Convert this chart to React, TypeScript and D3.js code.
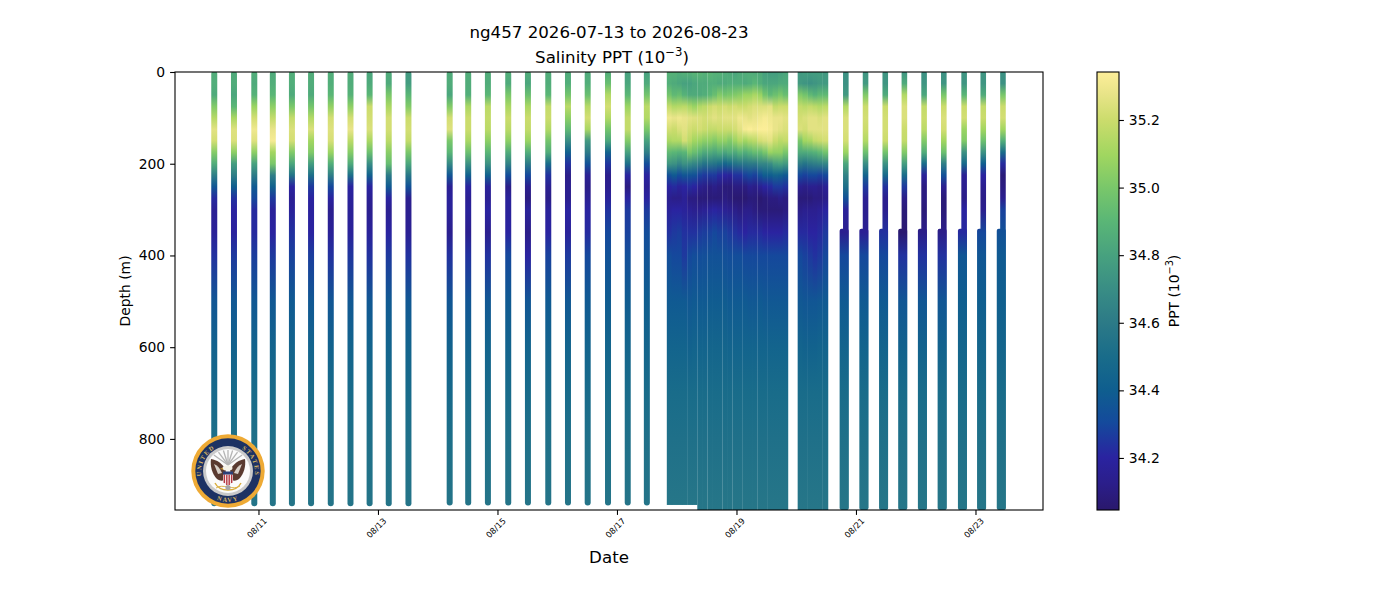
import React, { useEffect, useRef } from 'react';
import * as d3 from 'd3';

// Depth bins (m) shared by every profile row below
const depthLevels = [0, 25, 50, 75, 100, 125, 150, 175, 200, 225, 250, 275, 300, 350, 400, 500, 600, 700, 800, 950];

// Profile times, as day of August
const earlyDays = [10.26, 10.59, 10.93, 11.24, 11.56, 11.88, 12.21, 12.54, 12.86, 13.18, 13.51];
const midDays = [14.2, 14.51, 14.84, 15.18, 15.51, 15.85, 16.18, 16.51, 16.85, 17.18, 17.5];
const denseDays = [17.88, 17.96, 18.05, 18.13, 18.22, 18.3, 18.39, 18.47, 18.56, 18.64, 18.72, 18.81, 18.89, 18.98, 19.06, 19.15, 19.23, 19.31, 19.4, 19.48, 19.57, 19.65, 19.74, 19.82];
const dense2Days = [20.07, 20.15, 20.24, 20.32, 20.4, 20.49];
const lateDays = [20.83, 21.16, 21.49, 21.81, 22.14, 22.47, 22.81, 23.13, 23.46];

// Salinity per profile, one value per depth level
const earlySalinity = [
  [34.85, 34.86, 34.84, 35.02, 35.15, 35.26, 35.22, 35.03, 34.85, 34.62, 34.36, 34.22, 34.16, 34.17, 34.24, 34.36, 34.43, 34.48, 34.52, 34.56],
  [34.84, 34.85, 34.82, 34.9, 35.12, 35.25, 35.24, 35.05, 34.78, 34.62, 34.4, 34.24, 34.2, 34.19, 34.26, 34.37, 34.43, 34.49, 34.53, 34.56],
  [34.86, 34.84, 34.88, 35.08, 35.22, 35.3, 35.25, 35.05, 34.8, 34.6, 34.38, 34.3, 34.22, 34.22, 34.27, 34.37, 34.44, 34.49, 34.53, 34.56],
  [34.84, 34.86, 34.9, 35.05, 35.18, 35.28, 35.32, 35.1, 35.0, 34.62, 34.42, 34.26, 34.18, 34.2, 34.26, 34.37, 34.44, 34.49, 34.53, 34.56],
  [34.86, 34.86, 34.84, 35.0, 35.18, 35.24, 35.22, 35.02, 34.82, 34.55, 34.2, 34.16, 34.18, 34.24, 34.28, 34.38, 34.44, 34.49, 34.53, 34.56],
  [34.85, 34.85, 34.84, 34.98, 35.14, 35.24, 35.1, 35.02, 34.78, 34.52, 34.26, 34.2, 34.19, 34.2, 34.27, 34.37, 34.44, 34.49, 34.53, 34.56],
  [34.86, 34.86, 34.9, 35.06, 35.22, 35.25, 35.23, 35.08, 34.86, 34.62, 34.3, 34.2, 34.14, 34.17, 34.24, 34.36, 34.43, 34.49, 34.53, 34.56],
  [34.85, 34.85, 34.88, 35.05, 35.22, 35.28, 35.16, 35.03, 34.84, 34.52, 34.2, 34.18, 34.17, 34.18, 34.25, 34.37, 34.44, 34.49, 34.53, 34.56],
  [34.82, 34.84, 34.9, 35.2, 35.22, 35.24, 35.12, 34.96, 34.7, 34.42, 34.2, 34.16, 34.14, 34.18, 34.24, 34.37, 34.44, 34.49, 34.53, 34.56],
  [34.84, 34.84, 35.0, 35.12, 35.22, 35.22, 35.16, 35.04, 34.94, 34.6, 34.38, 34.2, 34.15, 34.2, 34.26, 34.38, 34.44, 34.49, 34.53, 34.56],
  [34.76, 34.78, 34.9, 35.02, 35.2, 35.22, 35.18, 35.0, 34.82, 34.58, 34.34, 34.14, 34.14, 34.16, 34.24, 34.37, 34.44, 34.49, 34.53, 34.56],
];

const midSalinity = [
  [34.84, 34.85, 34.82, 35.02, 35.22, 35.25, 35.0, 34.9, 34.68, 34.36, 34.16, 34.18, 34.18, 34.14, 34.24, 34.36, 34.43, 34.48, 34.52, 34.56],
  [34.85, 34.85, 34.86, 35.12, 35.2, 35.2, 35.12, 34.96, 34.72, 34.42, 34.2, 34.16, 34.18, 34.14, 34.24, 34.36, 34.43, 34.49, 34.53, 34.56],
  [34.85, 34.85, 34.9, 35.16, 35.18, 35.16, 35.05, 34.9, 34.72, 34.42, 34.18, 34.16, 34.2, 34.14, 34.24, 34.37, 34.44, 34.49, 34.53, 34.56],
  [34.86, 34.84, 35.0, 35.12, 35.2, 35.16, 35.05, 34.85, 34.64, 34.32, 34.12, 34.18, 34.18, 34.2, 34.3, 34.38, 34.44, 34.49, 34.53, 34.56],
  [34.85, 34.82, 34.95, 35.12, 35.2, 35.18, 35.08, 34.86, 34.6, 34.3, 34.14, 34.1, 34.18, 34.12, 34.2, 34.36, 34.44, 34.49, 34.53, 34.56],
  [34.85, 34.85, 34.9, 35.18, 35.2, 35.14, 34.98, 34.85, 34.5, 34.24, 34.15, 34.12, 34.18, 34.2, 34.28, 34.38, 34.44, 34.49, 34.53, 34.56],
  [34.84, 34.86, 34.98, 35.16, 35.05, 34.92, 34.7, 34.42, 34.24, 34.12, 34.14, 34.14, 34.2, 34.18, 34.26, 34.37, 34.44, 34.49, 34.53, 34.56],
  [34.84, 34.86, 34.95, 35.15, 35.22, 35.12, 34.76, 34.6, 34.34, 34.16, 34.12, 34.16, 34.2, 34.22, 34.3, 34.38, 34.44, 34.49, 34.53, 34.56],
  [34.85, 34.95, 35.14, 35.22, 35.14, 34.98, 34.82, 34.44, 34.25, 34.13, 34.14, 34.18, 34.24, 34.3, 34.34, 34.39, 34.45, 34.5, 34.53, 34.56],
  [34.8, 34.82, 34.9, 35.08, 35.18, 35.18, 35.02, 34.8, 34.52, 34.2, 34.1, 34.2, 34.26, 34.28, 34.33, 34.39, 34.45, 34.5, 34.53, 34.56],
  [34.8, 34.84, 34.98, 35.16, 35.14, 35.0, 34.8, 34.62, 34.32, 34.2, 34.16, 34.2, 34.26, 34.32, 34.35, 34.4, 34.45, 34.5, 34.53, 34.56],
];

const denseSalinity = [
  [34.88, 34.86, 34.98, 35.18, 35.3, 35.22, 35.12, 34.92, 34.74, 34.34, 34.2, 34.14, 34.18, 34.24, 34.32, 34.38, 34.44, 34.5, 34.53, 34.57],
  [34.88, 34.84, 34.92, 35.14, 35.28, 35.2, 35.14, 34.9, 34.72, 34.38, 34.22, 34.12, 34.2, 34.26, 34.3, 34.38, 34.44, 34.5, 34.53, 34.57],
  [34.86, 34.82, 34.94, 35.15, 35.3, 35.24, 35.14, 34.88, 34.66, 34.32, 34.18, 34.12, 34.2, 34.27, 34.3, 34.38, 34.44, 34.5, 34.53, 34.57],
  [34.88, 34.8, 34.88, 35.16, 35.28, 35.26, 35.22, 34.9, 34.72, 34.36, 34.2, 34.16, 34.18, 34.24, 34.26, 34.38, 34.44, 34.5, 34.53, 34.57],
  [34.88, 34.8, 34.84, 35.12, 35.26, 35.22, 35.16, 35.0, 34.7, 34.35, 34.22, 34.1, 34.16, 34.24, 34.3, 34.37, 34.43, 34.5, 34.53, 34.57],
  [34.9, 34.82, 34.84, 35.08, 35.25, 35.2, 35.1, 34.95, 34.66, 34.34, 34.2, 34.1, 34.14, 34.24, 34.32, 34.38, 34.44, 34.5, 34.53, 34.57],
  [34.9, 34.84, 34.84, 35.14, 35.24, 35.22, 35.08, 34.9, 34.62, 34.28, 34.14, 34.08, 34.14, 34.26, 34.32, 34.38, 34.44, 34.5, 34.53, 34.57],
  [34.88, 34.84, 34.86, 35.16, 35.22, 35.2, 35.05, 34.84, 34.56, 34.26, 34.12, 34.08, 34.16, 34.27, 34.33, 34.38, 34.44, 34.5, 34.53, 34.57],
  [34.9, 34.86, 34.9, 35.2, 35.24, 35.18, 35.05, 34.85, 34.58, 34.26, 34.1, 34.08, 34.18, 34.28, 34.34, 34.39, 34.45, 34.5, 34.53, 34.57],
  [34.88, 34.86, 34.95, 35.22, 35.26, 35.18, 35.02, 34.82, 34.56, 34.26, 34.12, 34.08, 34.2, 34.3, 34.34, 34.39, 34.45, 34.5, 34.53, 34.57],
  [34.88, 34.84, 35.02, 35.2, 35.24, 35.2, 35.06, 34.86, 34.52, 34.22, 34.1, 34.08, 34.18, 34.28, 34.34, 34.39, 34.45, 34.5, 34.53, 34.57],
  [34.86, 34.84, 34.98, 35.22, 35.26, 35.2, 35.06, 34.82, 34.46, 34.2, 34.08, 34.1, 34.16, 34.28, 34.33, 34.39, 34.45, 34.5, 34.53, 34.57],
  [34.84, 34.86, 35.0, 35.2, 35.26, 35.2, 35.02, 34.86, 34.5, 34.18, 34.08, 34.08, 34.14, 34.26, 34.32, 34.38, 34.44, 34.5, 34.53, 34.57],
  [34.82, 34.86, 35.02, 35.22, 35.26, 35.22, 35.08, 34.84, 34.55, 34.24, 34.1, 34.06, 34.12, 34.24, 34.32, 34.38, 34.44, 34.5, 34.53, 34.57],
  [34.84, 34.86, 35.04, 35.2, 35.3, 35.26, 35.14, 34.9, 34.58, 34.24, 34.1, 34.06, 34.1, 34.22, 34.32, 34.38, 34.44, 34.5, 34.53, 34.57],
  [34.86, 34.84, 35.08, 35.2, 35.28, 35.32, 35.1, 34.86, 34.58, 34.28, 34.1, 34.06, 34.12, 34.2, 34.3, 34.38, 34.44, 34.5, 34.53, 34.57],
  [34.86, 34.86, 35.08, 35.22, 35.26, 35.34, 35.14, 34.9, 34.6, 34.3, 34.14, 34.08, 34.12, 34.22, 34.3, 34.37, 34.44, 34.5, 34.53, 34.57],
  [34.84, 34.9, 35.12, 35.24, 35.28, 35.32, 35.16, 34.94, 34.6, 34.28, 34.12, 34.08, 34.1, 34.22, 34.3, 34.37, 34.44, 34.5, 34.53, 34.57],
  [34.84, 34.86, 35.08, 35.24, 35.3, 35.34, 35.22, 34.94, 34.66, 34.34, 34.16, 34.06, 34.08, 34.22, 34.3, 34.38, 34.44, 34.5, 34.53, 34.57],
  [34.8, 34.82, 34.98, 35.24, 35.32, 35.34, 35.24, 35.0, 34.66, 34.4, 34.2, 34.08, 34.08, 34.2, 34.3, 34.37, 34.44, 34.5, 34.53, 34.57],
  [34.78, 34.82, 34.92, 35.26, 35.3, 35.32, 35.26, 35.08, 34.7, 34.4, 34.22, 34.1, 34.08, 34.2, 34.3, 34.37, 34.44, 34.5, 34.53, 34.57],
  [34.78, 34.82, 34.96, 35.18, 35.28, 35.28, 35.2, 35.06, 34.78, 34.44, 34.26, 34.1, 34.08, 34.2, 34.3, 34.37, 34.44, 34.5, 34.53, 34.57],
  [34.8, 34.84, 35.0, 35.2, 35.28, 35.26, 35.16, 35.06, 34.8, 34.42, 34.26, 34.12, 34.08, 34.2, 34.3, 34.37, 34.44, 34.5, 34.53, 34.57],
  [34.82, 34.84, 34.95, 35.2, 35.26, 35.24, 35.18, 35.0, 34.76, 34.38, 34.24, 34.1, 34.1, 34.22, 34.3, 34.37, 34.44, 34.5, 34.53, 34.57],
];

const dense2Salinity = [
  [34.76, 34.76, 35.02, 35.18, 35.22, 35.24, 35.0, 34.84, 34.6, 34.3, 34.14, 34.08, 34.12, 34.22, 34.3, 34.37, 34.44, 34.5, 34.53, 34.57],
  [34.78, 34.74, 34.98, 35.16, 35.24, 35.22, 35.1, 34.84, 34.56, 34.28, 34.12, 34.08, 34.14, 34.22, 34.28, 34.36, 34.43, 34.5, 34.53, 34.57],
  [34.78, 34.72, 34.92, 35.18, 35.26, 35.26, 35.12, 34.86, 34.6, 34.3, 34.14, 34.08, 34.14, 34.2, 34.26, 34.36, 34.43, 34.5, 34.53, 34.57],
  [34.78, 34.74, 34.88, 35.16, 35.26, 35.26, 35.18, 34.88, 34.62, 34.3, 34.14, 34.1, 34.14, 34.2, 34.24, 34.36, 34.43, 34.5, 34.53, 34.57],
  [34.78, 34.76, 34.92, 35.14, 35.24, 35.26, 35.2, 34.92, 34.64, 34.28, 34.12, 34.1, 34.16, 34.22, 34.26, 34.37, 34.44, 34.5, 34.53, 34.57],
  [34.76, 34.76, 34.92, 35.16, 35.26, 35.26, 35.22, 34.98, 34.66, 34.3, 34.16, 34.12, 34.2, 34.26, 34.3, 34.38, 34.44, 34.5, 34.53, 34.57],
];

const lateSalinity = [
  [34.72, 34.72, 34.76, 35.14, 35.24, 35.24, 35.22, 35.08, 34.82, 34.64, 34.52, 34.34, 34.18, 34.14, 34.3, 34.38, 34.44, 34.5, 34.53, 34.57],
  [34.74, 34.76, 35.02, 35.2, 35.22, 35.2, 35.14, 34.96, 34.7, 34.44, 34.26, 34.16, 34.14, 34.16, 34.3, 34.38, 34.44, 34.5, 34.53, 34.57],
  [34.74, 34.74, 34.84, 35.2, 35.22, 35.22, 35.2, 34.98, 34.72, 34.48, 34.24, 34.14, 34.14, 34.24, 34.3, 34.38, 34.44, 34.5, 34.53, 34.57],
  [34.74, 34.84, 35.14, 35.24, 35.24, 35.2, 35.18, 35.02, 34.78, 34.5, 34.26, 34.12, 34.08, 34.06, 34.24, 34.36, 34.43, 34.5, 34.53, 34.57],
  [34.72, 34.74, 34.82, 35.18, 35.2, 35.16, 35.02, 34.85, 34.5, 34.18, 34.1, 34.1, 34.08, 34.12, 34.24, 34.36, 34.43, 34.5, 34.53, 34.57],
  [34.72, 34.74, 35.0, 35.2, 35.24, 35.22, 35.1, 34.96, 34.62, 34.34, 34.14, 34.08, 34.08, 34.12, 34.24, 34.36, 34.43, 34.5, 34.53, 34.57],
  [34.74, 34.74, 34.9, 35.2, 35.22, 35.08, 35.02, 34.72, 34.48, 34.16, 34.14, 34.12, 34.2, 34.22, 34.36, 34.4, 34.45, 34.5, 34.53, 34.57],
  [34.74, 34.74, 34.84, 35.18, 35.2, 35.1, 34.96, 34.72, 34.4, 34.2, 34.14, 34.12, 34.14, 34.3, 34.36, 34.4, 34.45, 34.5, 34.53, 34.57],
  [34.72, 34.72, 35.0, 35.2, 35.22, 35.1, 34.86, 34.5, 34.22, 34.08, 34.1, 34.14, 34.28, 34.34, 34.38, 34.41, 34.45, 34.5, 34.53, 34.57],
];

// Deepest sample of each group (m)
const earlyBottom = 947;
const midBottom = 945;
const dense1Bottom = 944;
const denseBottom = 955;
const lateBottom = 955;
const lateWideFrom = 342; // second sensor range starts here

const depthTicks = [0, 200, 400, 600, 800];
const dateTicks = [11, 13, 15, 17, 19, 21, 23];
const colorbarTicks = [34.2, 34.4, 34.6, 34.8, 35.0, 35.2];

const salinityMin = 34.046;
const salinityMax = 35.342;

// haline-like colormap
const halineStops = [0, 0.06, 0.12, 0.2, 0.273, 0.35, 0.427, 0.5, 0.58, 0.66, 0.736, 0.81, 0.89, 0.95, 1];
const halineColors = ['#2a186c', '#2b1e8a', '#2a23a0', '#144a9c', '#0f5e8f', '#196c8a', '#2c7a87', '#388c85', '#47a17f', '#5ab676', '#79c76a', '#a0d660', '#cbdc6c', '#e8e488', '#fdee99'];

const font = '"DejaVu Sans", sans-serif';

const NavySeal: React.FC<{ cx: number; cy: number }> = ({ cx, cy }) => {
  const rays = [-48, -30, -14, 0, 14, 30, 48];
  const sealText = { fontFamily: '"Liberation Serif", serif', fontWeight: 'bold', fontSize: 6.2, letterSpacing: 1.5, fill: '#d9b562' };
  return (
    <g transform={`translate(${cx},${cy})`}>
      <circle r={36.7} fill="#eeaa35" />
      <circle r={32.7} fill="#1d3263" />
      <circle r={25} fill="#c9c9c9" />
      <circle r={22} fill="#fbfbfb" />
      <defs>
        <path id="sealTop" d="M -26.4 7 A 27 27 0 1 1 26.4 7" />
        <path id="sealBottom" d="M -15 27 A 31 31 0 0 0 15 27" />
      </defs>
      <text {...sealText} textAnchor="start">
        <textPath href="#sealTop" startOffset="2%">UNITED</textPath>
      </text>
      <text {...sealText} textAnchor="end">
        <textPath href="#sealTop" startOffset="98%">STATES</textPath>
      </text>
      <text {...sealText} textAnchor="middle">
        <textPath href="#sealBottom" startOffset="50%">NAVY</textPath>
      </text>
      {rays.map(a => (
        <line key={a} x1={0} y1={-6} x2={19 * Math.sin((a * Math.PI) / 180)} y2={-6 - 15 * Math.cos((a * Math.PI) / 180)} stroke="#b5b5b5" strokeWidth={1.3} />
      ))}
      {/* wings */}
      <path d="M -2 -1 C -6 -8 -11 -11 -17 -12 C -18 -5 -16 3 -11 8 C -8 10 -6 10 -4 9 Z" fill="#5a3a30" />
      <path d="M 2 -1 C 6 -8 11 -11 17 -12 C 18 -5 16 3 11 8 C 8 10 6 10 4 9 Z" fill="#5a3a30" />
      <path d="M -14 -7 C -11 -6 -8 -3 -6 2 L -10 3 Z" fill="#d8d0c8" />
      <path d="M 14 -7 C 11 -6 8 -3 6 2 L 10 3 Z" fill="#d8d0c8" />
      {/* head */}
      <ellipse cx={-0.5} cy={-3} rx={5} ry={2.6} fill="#f5f2e8" />
      <path d="M -5.5 -3 L -8.5 -2 L -4.5 -1.5 Z" fill="#d9a52e" />
      {/* shield */}
      <rect x={-5} y={0.5} width={10} height={3.2} fill="#2b3f78" />
      <path d="M -5 3.7 H 5 V 10 C 5 12.5 2 13.5 0 14.5 C -2 13.5 -5 12.5 -5 10 Z" fill="#f3e6e6" />
      <path d="M -3.7 3.7 V 12 M -1.2 3.7 V 14 M 1.2 3.7 V 14 M 3.7 3.7 V 12" stroke="#b22f3a" strokeWidth={1.3} />
      {/* anchor and rope */}
      <path d="M -13 12 C -10 18 -3 19 0 19 C 3 19 10 18 13 12" fill="none" stroke="#d8ad3c" strokeWidth={1.4} />
      <path d="M -12 17 C -5 12 5 20 12 15" fill="none" stroke="#d8ad3c" strokeWidth={0.9} />
      <circle cx={0} cy={16.5} r={2.6} fill="#a6a6a6" />
    </g>
  );
};

const App: React.FC = () => {
  const svgRef = useRef<SVGSVGElement>(null);

  useEffect(() => {
    if (!svgRef.current) return;
    const svg = d3.select(svgRef.current);
    svg.selectAll('*:not(.seal-holder):not(.seal-holder *)').remove();

    const left = 175;
    const right = 1043;
    const top = 72;
    const bottom = 510;

    // fractional day of August -> Date (new Date(y, m, d) would drop the fraction)
    const august1 = new Date(2026, 7, 1).getTime();
    const dayToDate = (d: number) => new Date(august1 + (d - 1) * 86400000);
    const x = d3.scaleTime()
      .domain([dayToDate(9.603), dayToDate(24.13)])
      .range([left, right]);
    const y = d3.scaleLinear().domain([0, 955]).range([top, bottom]);

    const color = d3.scaleLinear<string>()
      .domain(halineStops.map(t => salinityMin + t * (salinityMax - salinityMin)))
      .range(halineColors);

    const defs = svg.append('defs');
    const plot = svg.insert('g', '.seal-holder');
    const clipId = 'plot-clip';
    defs.append('clipPath').attr('id', clipId).append('rect')
      .attr('x', left).attr('y', top).attr('width', right - left).attr('height', bottom - top);
    plot.attr('clip-path', `url(#${clipId})`);

    let gradId = 0;
    const drawProfile = (
      day: number,
      values: number[],
      maxDepth: number,
      width: number,
      radius: number,
      widenLeft = 0,
    ) => {
      const id = `profile-${gradId++}`;
      const grad = defs.append('linearGradient')
        .attr('id', id)
        .attr('gradientUnits', 'userSpaceOnUse')
        .attr('x1', 0).attr('x2', 0)
        .attr('y1', y(0)).attr('y2', y(maxDepth));
      depthLevels.forEach((lvl, i) => {
        grad.append('stop')
          .attr('offset', Math.min(1, lvl / maxDepth))
          .attr('stop-color', color(values[i]));
      });
      const cx = x(dayToDate(day));
      plot.append('rect')
        .attr('x', cx - width / 2)
        .attr('y', y(0) - 1)
        .attr('width', width)
        .attr('height', y(maxDepth) - y(0) + 1)
        .attr('rx', radius)
        .attr('fill', `url(#${id})`);
      if (widenLeft > 0) {
        plot.append('rect')
          .attr('x', cx - width / 2 - widenLeft)
          .attr('y', y(lateWideFrom))
          .attr('width', width + widenLeft)
          .attr('height', y(maxDepth) - y(lateWideFrom))
          .attr('rx', 2)
          .attr('fill', `url(#${id})`);
      }
    };

    earlyDays.forEach((d, i) => drawProfile(d, earlySalinity[i], earlyBottom, 6, 3));
    midDays.forEach((d, i) => drawProfile(d, midSalinity[i], midBottom, 6, 3));
    denseDays.forEach((d, i) => drawProfile(d, denseSalinity[i], i < 6 ? dense1Bottom : denseBottom, 5.5, 0));
    dense2Days.forEach((d, i) => drawProfile(d, dense2Salinity[i], denseBottom, 5.5, 0));
    lateDays.forEach((d, i) => drawProfile(d, lateSalinity[i], lateBottom, 5.6, 2.5, 3.4));

    // Frame
    svg.append('rect')
      .attr('x', left).attr('y', top)
      .attr('width', right - left).attr('height', bottom - top)
      .attr('fill', 'none').attr('stroke', '#000').attr('stroke-width', 1.1);

    // Axes
    const yAxis = svg.append('g')
      .attr('transform', `translate(${left},0)`)
      .call(d3.axisLeft(y).tickValues(depthTicks).tickSize(4.9).tickPadding(4.9));
    yAxis.select('.domain').remove();
    yAxis.selectAll('line').attr('stroke', '#000').attr('stroke-width', 1.1);
    yAxis.selectAll('text').attr('font-family', font).attr('font-size', 13.9).attr('fill', '#000');

    const xAxis = svg.append('g')
      .attr('transform', `translate(0,${bottom})`)
      .call(d3.axisBottom(x).tickValues(dateTicks.map(dayToDate)).tickSize(4.9).tickFormat(d3.timeFormat('%m/%d') as any));
    xAxis.select('.domain').remove();
    xAxis.selectAll('line').attr('stroke', '#000').attr('stroke-width', 1.1);
    xAxis.selectAll('text')
      .attr('font-family', font)
      .attr('font-size', 8.3)
      .attr('fill', '#000')
      .attr('text-anchor', 'middle')
      .attr('x', 0)
      .attr('y', 0)
      .attr('dy', '0.35em')
      .attr('transform', 'translate(-2,18) rotate(-45)');

    svg.append('text')
      .attr('transform', `translate(130,${(top + bottom) / 2}) rotate(-90)`)
      .attr('text-anchor', 'middle')
      .attr('font-family', font).attr('font-size', 13.9)
      .text('Depth (m)');

    svg.append('text')
      .attr('x', (left + right) / 2).attr('y', 563)
      .attr('text-anchor', 'middle')
      .attr('font-family', font).attr('font-size', 16.67)
      .text('Date');

    // Title
    svg.append('text')
      .attr('x', (left + right) / 2).attr('y', 38)
      .attr('text-anchor', 'middle')
      .attr('font-family', font).attr('font-size', 16.67)
      .text('ng457 2026-07-13 to 2026-08-23');

    const appendPower = (sel: d3.Selection<SVGTextElement, unknown, null, undefined>, prefix: string, size: number) => {
      sel.append('tspan').text(`${prefix}(10`);
      sel.append('tspan').attr('dy', -size * 0.4).attr('font-size', size * 0.7).text('\u22123');
      sel.append('tspan').attr('dy', size * 0.4).text(')');
    };

    const subtitle = svg.append('text')
      .attr('x', 612).attr('y', 63)
      .attr('text-anchor', 'middle')
      .attr('font-family', font).attr('font-size', 16.67);
    appendPower(subtitle as any, 'Salinity PPT ', 16.67);

    // Colorbar
    const cbLeft = 1097;
    const cbRight = 1119;
    const cbScale = d3.scaleLinear().domain([salinityMin, salinityMax]).range([bottom, top]);
    const cbGrad = defs.append('linearGradient')
      .attr('id', 'colorbar-grad')
      .attr('x1', 0).attr('x2', 0).attr('y1', 1).attr('y2', 0);
    halineStops.forEach((t, i) => {
      cbGrad.append('stop').attr('offset', t).attr('stop-color', halineColors[i]);
    });
    svg.append('rect')
      .attr('x', cbLeft).attr('y', top)
      .attr('width', cbRight - cbLeft).attr('height', bottom - top)
      .attr('fill', 'url(#colorbar-grad)')
      .attr('stroke', '#000').attr('stroke-width', 1.1);

    const cbAxis = svg.append('g')
      .attr('transform', `translate(${cbRight},0)`)
      .call(d3.axisRight(cbScale).tickValues(colorbarTicks).tickSize(4.9).tickPadding(4.9).tickFormat(d3.format('.1f') as any));
    cbAxis.select('.domain').remove();
    cbAxis.selectAll('line').attr('stroke', '#000').attr('stroke-width', 1.1);
    cbAxis.selectAll('text').attr('font-family', font).attr('font-size', 13.9).attr('fill', '#000');

    const cbLabel = svg.append('text')
      .attr('transform', `translate(1179,${(top + bottom) / 2}) rotate(-90)`)
      .attr('text-anchor', 'middle')
      .attr('font-family', font).attr('font-size', 13.9);
    appendPower(cbLabel as any, 'PPT ', 13.9);

    // keep the seal above the plot
    svg.select('.seal-holder').raise();
  }, []);

  return (
    <svg ref={svgRef} width={1400} height={600} style={{ position: 'absolute', left: 0, top: 0, background: '#fff' }}>
      <g className="seal-holder">
        <NavySeal cx={228} cy={471} />
      </g>
    </svg>
  );
};

export default App;
